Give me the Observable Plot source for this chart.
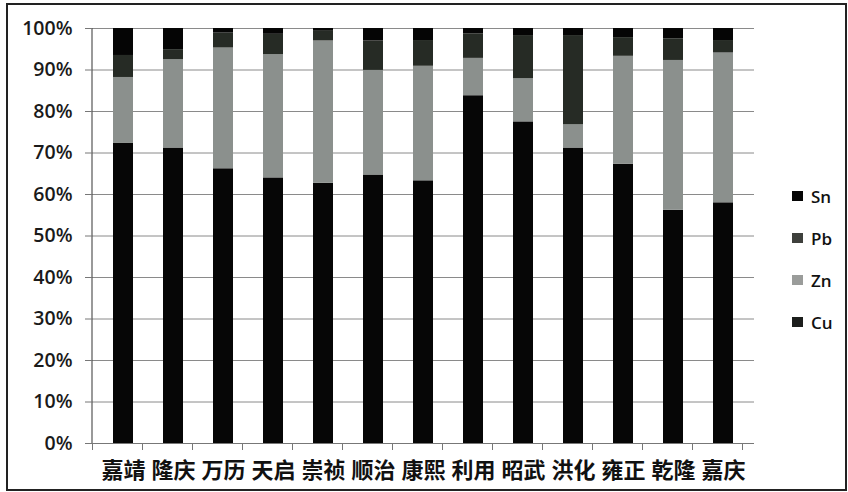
<!DOCTYPE html>
<html>
<head>
<meta charset="utf-8">
<script src="https://cdn.jsdelivr.net/npm/d3@7"></script>
<script src="https://cdn.jsdelivr.net/npm/@observablehq/plot@0.6"></script>
<style>
  html, body { margin: 0; padding: 0; background: #fff; }
  #wrap { position: relative; width: 848px; height: 492px; overflow: hidden; }
  #border { position: absolute; left: 6px; top: 3px; width: 837px; height: 484px; border: 2px solid #222; box-sizing: content-box; pointer-events: none; }
  #legend { position: absolute; left: 792px; top: 175px; font-family: "Open Sans", "Liberation Sans", sans-serif; font-size: 17px; font-weight: 600; color: #111; }
  #legend .item { display: flex; align-items: center; height: 42px; }
  #legend .sw { width: 11px; height: 10px; margin-right: 8px; }
</style>
</head>
<body>
<div id="wrap">
  <div id="chart"></div>
  <div id="legend"></div>
  <div id="border"></div>
</div>
<script>
// Categories (reign eras)
const eras = ["嘉靖","隆庆","万历","天启","崇祯","顺治","康熙","利用","昭武","洪化","雍正","乾隆","嘉庆"];
// Composition percentages
const Cu = [72.3, 71.2, 66.2, 64.0, 62.7, 64.7, 63.3, 83.8, 77.5, 71.2, 67.3, 56.2, 58.0];
const Zn = [15.9, 21.3, 29.1, 29.7, 34.3, 25.2, 27.6,  9.0, 10.4,  5.6, 26.0, 36.1, 36.1];
const Pb = [ 5.3,  2.4,  3.6,  4.9,  2.5,  7.1,  6.2,  5.9, 10.4, 21.5,  4.5,  5.2,  3.0];
const Sn = [ 6.5,  5.1,  1.1,  1.4,  0.5,  3.0,  2.9,  1.3,  1.7,  1.7,  2.2,  2.5,  2.9];
const metals = ["Cu", "Zn", "Pb", "Sn"];           // stacking order, bottom to top
const legendOrder = ["Sn", "Pb", "Zn", "Cu"];
const yTicks = [0, 10, 20, 30, 40, 50, 60, 70, 80, 90, 100];

const barColors = {Cu: "#060606", Zn: "#8b908d", Pb: "#262b25", Sn: "#050505"};
const legendColors = {Sn: "#050505", Pb: "#3e403c", Zn: "#9a9c9a", Cu: "#1c1e1c"};

const series = {Cu, Zn, Pb, Sn};
const data = [];
eras.forEach((era, i) => {
  metals.forEach(m => data.push({era, metal: m, value: series[m][i]}));
});

const frameMark = (index, scales, values, dims) => {
  const g = d3.create("svg:g");
  const x = scales.x;
  const step = x.step();
  const [r0] = x.range();
  const y0 = dims.height - dims.marginBottom;
  const y1 = dims.marginTop;
  const xl = dims.marginLeft;
  // left axis line
  g.append("line").attr("x1", xl).attr("x2", xl).attr("y1", y1).attr("y2", y0)
    .attr("stroke", "#555").attr("stroke-width", 1.2);
  // bottom category boundary ticks
  for (let k = 0; k <= eras.length; k++) {
    const xx = Math.round(r0 + k * step) + 0.5;
    g.append("line").attr("x1", xx).attr("x2", xx).attr("y1", y0).attr("y2", y0 + 7)
      .attr("stroke", "#777").attr("stroke-width", 1);
  }
  return g.node();
};

const chart = Plot.plot({
  width: 848,
  height: 492,
  marginLeft: 92,
  marginRight: 94,
  marginTop: 28,
  marginBottom: 49,
  style: {background: "transparent", overflow: "visible"},
  x: {domain: eras, paddingInner: 0.607, paddingOuter: 0.3035, label: null},
  y: {domain: [0, 100], label: null},
  color: {domain: metals, range: metals.map(m => barColors[m])},
  marks: [
    Plot.gridY(yTicks, {stroke: "#8a8a8a", strokeOpacity: 1, strokeWidth: 1}),
    Plot.barY(data, {x: "era", y: "value", fill: "metal", order: metals}),
    Plot.ruleY([0], {stroke: "#777", strokeWidth: 1.2}),
    frameMark,
    Plot.axisY(yTicks, {
      tickFormat: d => d + "%", tickSize: 7, tickPadding: 13, stroke: "#777",
      fontSize: 19.5, fontWeight: 600, fontFamily: "Open Sans, Liberation Sans, sans-serif", fill: "#1a1a1a", label: null
    }),
    Plot.axisX({
      tickSize: 0, tickPadding: 19, fontSize: 22, fontWeight: "bold",
      fontFamily: "Noto Sans CJK SC, sans-serif", fill: "#111", label: null
    })
  ]
});
document.getElementById("chart").appendChild(chart);

const legend = d3.select("#legend");
legendOrder.forEach(m => {
  const it = legend.append("div").attr("class", "item");
  it.append("div").attr("class", "sw").style("background", legendColors[m]);
  it.append("span").text(m);
});
</script>
</body>
</html>
